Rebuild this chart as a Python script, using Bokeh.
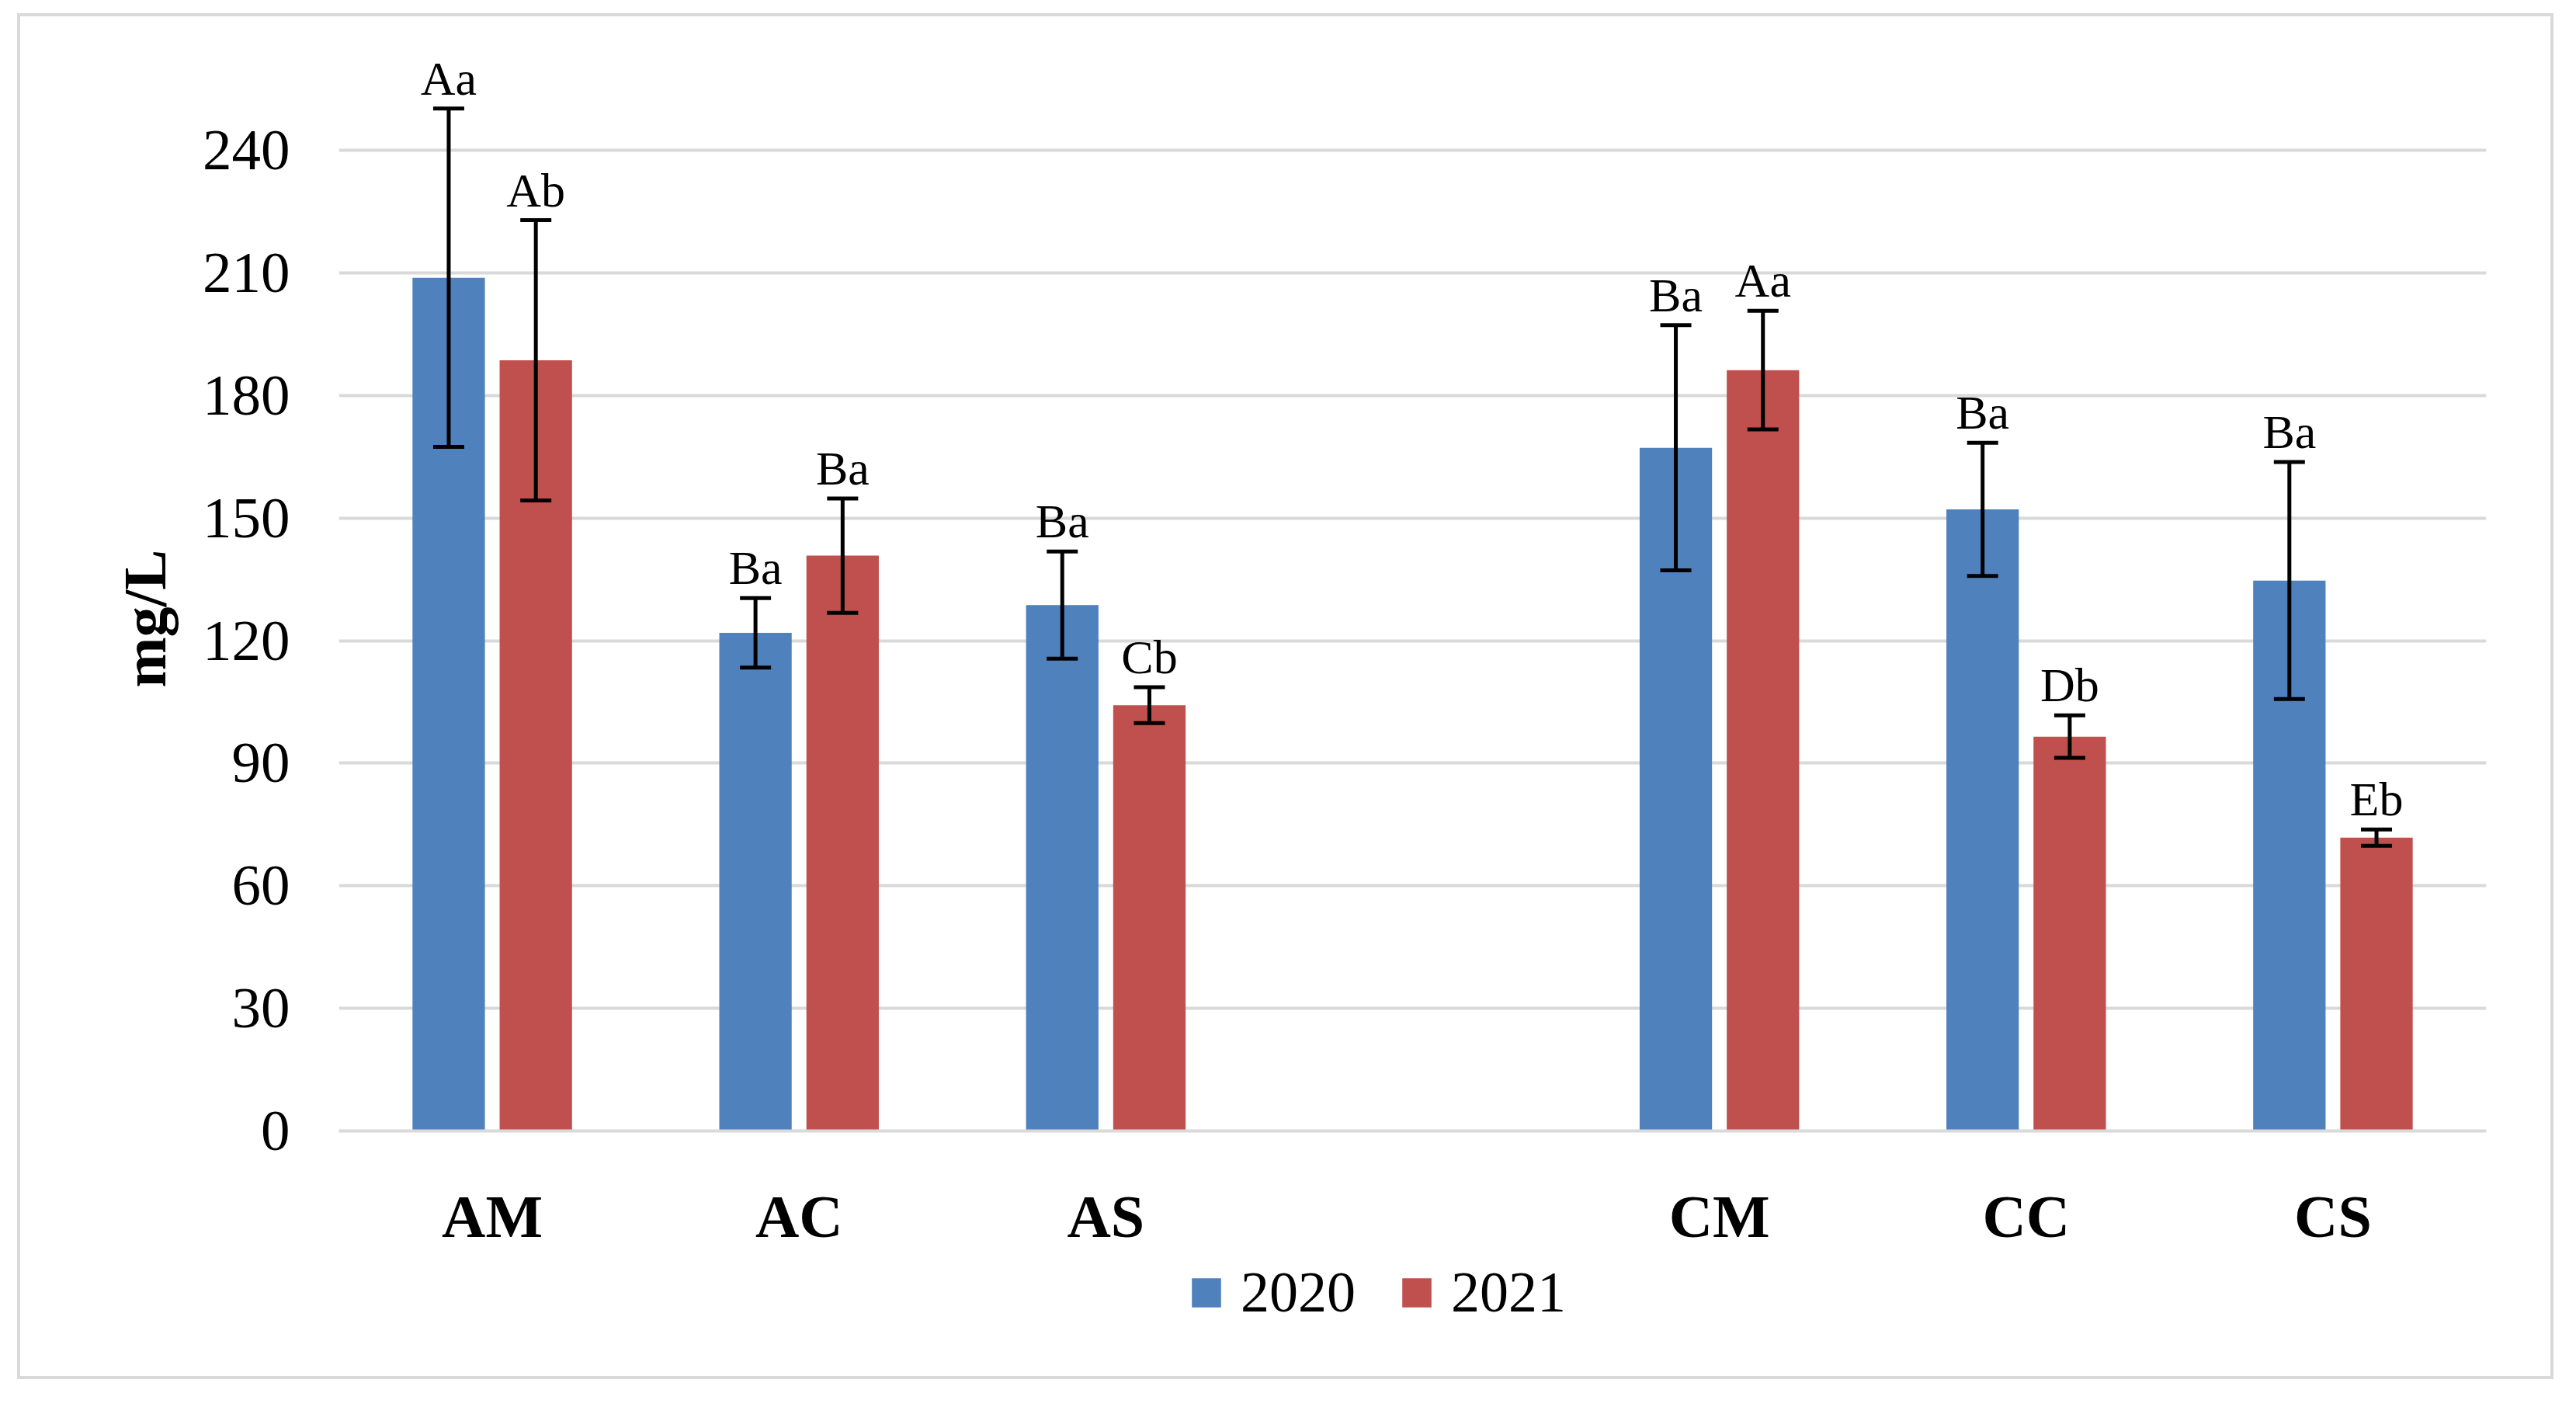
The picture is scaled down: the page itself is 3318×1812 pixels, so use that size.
from bokeh.plotting import figure
from bokeh.models import (ColumnDataSource, FactorRange, Whisker, TeeHead, Legend, LegendItem,
                          FixedTicker, Spacer, Title, Range1d)
from bokeh.layouts import row, column
from bokeh.transform import dodge
from bokeh.core.properties import value
from bokeh.embed import file_html
from bokeh.resources import INLINE

# ---- data ----
factors = ["AM", "AC", "AS", " ", "CM", "CC", "CS"]
cats = ["AM", "AC", "AS", "CM", "CC", "CS"]
y2020 = [208.8, 121.9, 128.7, 167.2, 152.1, 134.7]
e2020 = [41.4, 8.5, 13.1, 30.0, 16.3, 29.0]
y2021 = [188.6, 140.8, 104.2, 186.2, 96.5, 71.8]
e2021 = [34.3, 14.0, 4.4, 14.5, 5.2, 2.0]
lab2020 = ["Aa", "Ba", "Ba", "Ba", "Ba", "Ba"]
lab2021 = ["Ab", "Ba", "Cb", "Aa", "Db", "Eb"]
yticks = [0, 30, 60, 90, 120, 150, 180, 210, 240]
series = ["2020", "2021"]

BLUE = "#4f81bd"
RED = "#c0504d"
GRID = "#d9d9d9"
FONT = "Liberation Serif"

def make_src(vals, errs, labs):
    return ColumnDataSource(dict(
        x=cats, top=vals,
        upper=[v + e for v, e in zip(vals, errs)],
        lower=[v - e for v, e in zip(vals, errs)],
        lab=labs))

s20 = make_src(y2020, e2020, lab2020)
s21 = make_src(y2021, e2021, lab2021)

# ---- main chart ----
p = figure(x_range=FactorRange(factors=factors), y_range=(0, 266.8),
           width=3259, height=1596, output_backend="svg", toolbar_location=None,
           min_border_left=410, min_border_right=83, min_border_top=31, min_border_bottom=161)
p.x_range.range_padding = 0
p.outline_line_color = None
p.background_fill_color = "white"
p.border_fill_color = "white"

off = 0.142
bw = 0.236
r20 = p.vbar(x=dodge("x", -off, range=p.x_range), top="top", width=bw, source=s20,
             fill_color=BLUE, line_color=None)
r21 = p.vbar(x=dodge("x", off, range=p.x_range), top="top", width=bw, source=s21,
             fill_color=RED, line_color=None)

for src, o in ((s20, -off), (s21, off)):
    w = Whisker(base=dodge("x", o, range=p.x_range), upper="upper", lower="lower", source=src,
                line_color="black", line_width=5, level="overlay",
                upper_head=TeeHead(size=40, line_width=5, line_color="black"),
                lower_head=TeeHead(size=40, line_width=5, line_color="black"))
    p.add_layout(w)
    p.text(x=dodge("x", o, range=p.x_range), y="upper", text="lab", source=src,
           text_align="center", text_baseline="bottom", y_offset=-5,
           text_font=value(FONT), text_font_size="62px", text_color="black")

p.xgrid.grid_line_color = None
p.ygrid.grid_line_color = GRID
p.ygrid.grid_line_width = 4
p.yaxis.ticker = FixedTicker(ticks=yticks)

p.yaxis.axis_line_color = None
p.yaxis.major_tick_line_color = None
p.yaxis.minor_tick_line_color = None
p.yaxis.major_label_text_font = FONT
p.yaxis.major_label_text_font_size = "75px"
p.yaxis.major_label_text_color = "black"
p.yaxis.major_label_standoff = 57

ytitle = Title(text="mg/L", align="left", offset=571, standoff=56,
               text_font=FONT, text_font_size="78px", text_font_style="bold",
               text_color="black")
p.add_layout(ytitle, "left")

p.xaxis.axis_line_color = GRID
p.xaxis.axis_line_width = 4
p.xaxis.major_tick_line_color = None
p.xaxis.minor_tick_line_color = None
p.xaxis.major_label_text_font = FONT
p.xaxis.major_label_text_font_size = "78px"
p.xaxis.major_label_text_font_style = "bold"
p.xaxis.major_label_text_color = "black"
p.xaxis.major_label_standoff = 60

# ---- legend strip (proxy renderers sit outside the visible range) ----
q = figure(width=3259, height=155, output_backend="svg", toolbar_location=None,
           x_axis_type=None, y_axis_type=None, x_range=Range1d(0, 1), y_range=Range1d(0, 1),
           min_border=0)
q.outline_line_color = None
q.grid.visible = False
q.background_fill_color = "white"
q.border_fill_color = "white"
l20 = q.vbar(x=[-10], top=[0], width=0.1, fill_color=BLUE, line_color=None)
l21 = q.vbar(x=[-10], top=[0], width=0.1, fill_color=RED, line_color=None)
legend = Legend(items=[LegendItem(label=series[0], renderers=[l20]),
                       LegendItem(label=series[1], renderers=[l21])],
                orientation="horizontal", location=(1094, 65),
                glyph_width=47, glyph_height=47, label_standoff=21, spacing=55,
                padding=0, margin=0, border_line_color=None, background_fill_alpha=0,
                label_text_font=FONT, label_text_font_size="74px", label_text_color="black")
q.add_layout(legend)

inner = column(p, q, background="white")
framed = column(Spacer(width=3267, height=4),
                row(Spacer(width=4, height=1751), inner, Spacer(width=4, height=1751)),
                Spacer(width=3267, height=4),
                background=GRID)
layout = row(Spacer(width=22, height=1776), column(Spacer(width=10, height=17), framed))

open("out.html", "w").write(file_html(layout, INLINE))
